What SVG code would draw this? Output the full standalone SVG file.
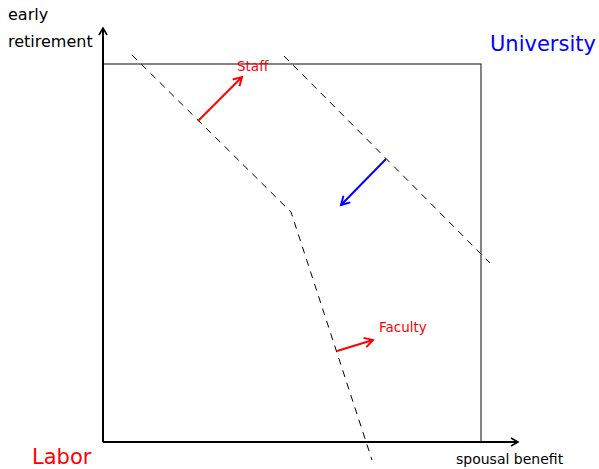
<svg xmlns="http://www.w3.org/2000/svg" width="599" height="469" viewBox="0 0 599 469">
<style>
text{font-family:"DejaVu Sans","Liberation Sans",sans-serif}
.lbl{font-size:16px;fill:#000}
.xl{font-size:14px;fill:#000}
.big{font-size:21px}
.sm{font-size:13.5px;fill:#ff0000}
.axis{stroke:#000;stroke-width:2;fill:none}
.box{stroke:#333;stroke-width:1.2;fill:none}
.dash{stroke:#000;stroke-width:1;stroke-dasharray:7,6;fill:none}
.red{stroke:#ff0000;stroke-width:2;fill:none}
.blue{stroke:#0000ff;stroke-width:2;fill:none}
</style>
<defs>
<marker id="ah" viewBox="0 0 10 10" refX="8" refY="5" markerWidth="10" markerHeight="10" markerUnits="userSpaceOnUse" orient="auto"><path d="M1,1 L8,5 L1,9" fill="none" stroke="#000" stroke-width="1.6"/></marker>
<marker id="ahr" viewBox="0 0 10 10" refX="8" refY="5" markerWidth="12" markerHeight="12" markerUnits="userSpaceOnUse" orient="auto"><path d="M1,1 L8,5 L1,9" fill="none" stroke="#ff0000" stroke-width="1.6"/></marker>
<marker id="ahb" viewBox="0 0 10 10" refX="8" refY="5" markerWidth="12" markerHeight="12" markerUnits="userSpaceOnUse" orient="auto"><path d="M1,1 L8,5 L1,9" fill="none" stroke="#0000ff" stroke-width="1.6"/></marker>
</defs>
<g id="frame">
<rect class="box" x="103" y="64" width="378" height="378"/>
</g>
<g id="connectors">
<line class="axis" x1="103" y1="442" x2="103" y2="28" marker-end="url(#ah)"/>
<line class="axis" x1="103" y1="442" x2="518" y2="442" marker-end="url(#ah)"/>
<polyline class="dash" points="132,55 291,212 372,460"/>
<line class="dash" x1="284" y1="56" x2="490" y2="263"/>
<line class="red" x1="198" y1="121" x2="242" y2="77" marker-end="url(#ahr)"/>
<line class="blue" x1="386" y1="159" x2="341" y2="205" marker-end="url(#ahb)"/>
<line class="red" x1="337" y1="351" x2="373" y2="340" marker-end="url(#ahr)"/>
</g>
<g id="labels">
<text class="lbl" x="8" y="20">early</text>
<text class="lbl" x="8" y="47">retirement</text>
<text class="xl" x="456" y="464">spousal benefit</text>
<text class="big" x="490" y="51" fill="#0000ff">University</text>
<text class="big" x="32" y="464" fill="#ff0000">Labor</text>
<text class="sm" x="237" y="71">Staff</text>
<text class="sm" x="379" y="332">Faculty</text>
</g>
</svg>
